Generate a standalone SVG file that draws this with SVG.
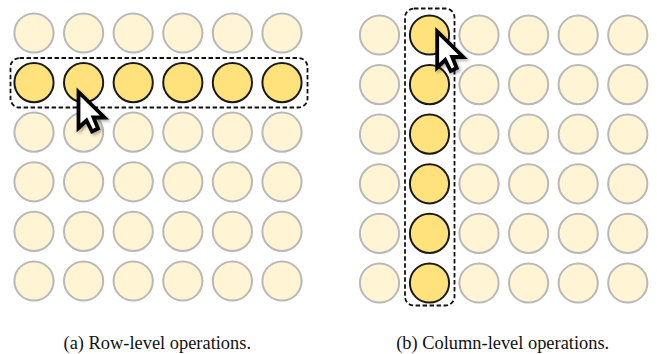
<svg xmlns="http://www.w3.org/2000/svg" width="657" height="354" viewBox="0 0 657 354">
<defs>
<filter id="sh" x="-30%" y="-30%" width="170%" height="170%"><feDropShadow dx="2" dy="2" stdDeviation="1.5" flood-color="#000" flood-opacity="0.3"/></filter>
<circle id="d" r="19.6" fill="#fff4d4" stroke="#b8b8b8" stroke-width="2"/>
<circle id="a" r="19.600" fill="#ffe27c" stroke="#1a1a1a" stroke-width="2"/>
<path id="cur" d="M0 0V36L8 28.500L13.500 39.500L19.500 36.500L15 25.500H26Z" fill="#fff" stroke="#000" stroke-width="3.800" stroke-linejoin="miter" filter="url(#sh)"/>
</defs>
<style>
.box{fill:none;stroke:#111;stroke-width:1.800;stroke-dasharray:4.500 2.500}
text{font-family:"Liberation Serif",serif;font-size:18.400px;fill:#111;text-anchor:middle}
</style>
<rect width="657" height="354" fill="#fff"/>
<g id="panel-a">
<use href="#d" x="34" y="33"/><use href="#d" x="83.600" y="33"/><use href="#d" x="133.200" y="33"/><use href="#d" x="182.800" y="33"/><use href="#d" x="232.400" y="33"/><use href="#d" x="282" y="33"/>
<use href="#a" x="34" y="82.600"/><use href="#a" x="83.600" y="82.600"/><use href="#a" x="133.200" y="82.600"/><use href="#a" x="182.800" y="82.600"/><use href="#a" x="232.400" y="82.600"/><use href="#a" x="282" y="82.600"/>
<use href="#d" x="34" y="132.200"/><use href="#d" x="83.600" y="132.200"/><use href="#d" x="133.200" y="132.200"/><use href="#d" x="182.800" y="132.200"/><use href="#d" x="232.400" y="132.200"/><use href="#d" x="282" y="132.200"/>
<use href="#d" x="34" y="181.800"/><use href="#d" x="83.600" y="181.800"/><use href="#d" x="133.200" y="181.800"/><use href="#d" x="182.800" y="181.800"/><use href="#d" x="232.400" y="181.800"/><use href="#d" x="282" y="181.800"/>
<use href="#d" x="34" y="231.400"/><use href="#d" x="83.600" y="231.400"/><use href="#d" x="133.200" y="231.400"/><use href="#d" x="182.800" y="231.400"/><use href="#d" x="232.400" y="231.400"/><use href="#d" x="282" y="231.400"/>
<use href="#d" x="34" y="281"/><use href="#d" x="83.600" y="281"/><use href="#d" x="133.200" y="281"/><use href="#d" x="182.800" y="281"/><use href="#d" x="232.400" y="281"/><use href="#d" x="282" y="281"/>
<rect class="box" x="10.500" y="58" width="297" height="49.500" rx="9"/>
<use href="#cur" x="78.500" y="92"/>
<text x="157.300" y="349.300">(a) Row-level operations.</text>
</g>
<g id="panel-b">
<use href="#d" x="379.500" y="35"/><use href="#a" x="429.500" y="35"/><use href="#d" x="479" y="35"/><use href="#d" x="528.600" y="35"/><use href="#d" x="578.200" y="35"/><use href="#d" x="627.800" y="35"/>
<use href="#d" x="379.500" y="84.600"/><use href="#a" x="429.500" y="84.600"/><use href="#d" x="479" y="84.600"/><use href="#d" x="528.600" y="84.600"/><use href="#d" x="578.200" y="84.600"/><use href="#d" x="627.800" y="84.600"/>
<use href="#d" x="379.500" y="134.200"/><use href="#a" x="429.500" y="134.200"/><use href="#d" x="479" y="134.200"/><use href="#d" x="528.600" y="134.200"/><use href="#d" x="578.200" y="134.200"/><use href="#d" x="627.800" y="134.200"/>
<use href="#d" x="379.500" y="183.800"/><use href="#a" x="429.500" y="183.800"/><use href="#d" x="479" y="183.800"/><use href="#d" x="528.600" y="183.800"/><use href="#d" x="578.200" y="183.800"/><use href="#d" x="627.800" y="183.800"/>
<use href="#d" x="379.500" y="233.400"/><use href="#a" x="429.500" y="233.400"/><use href="#d" x="479" y="233.400"/><use href="#d" x="528.600" y="233.400"/><use href="#d" x="578.200" y="233.400"/><use href="#d" x="627.800" y="233.400"/>
<use href="#d" x="379.500" y="283"/><use href="#a" x="429.500" y="283"/><use href="#d" x="479" y="283"/><use href="#d" x="528.600" y="283"/><use href="#d" x="578.200" y="283"/><use href="#d" x="627.800" y="283"/>
<rect class="box" x="405" y="8.500" width="49.500" height="297" rx="9"/>
<use href="#cur" x="437.200" y="31.500"/>
<text x="502.700" y="349.300">(b) Column-level operations.</text>
</g>
</svg>
